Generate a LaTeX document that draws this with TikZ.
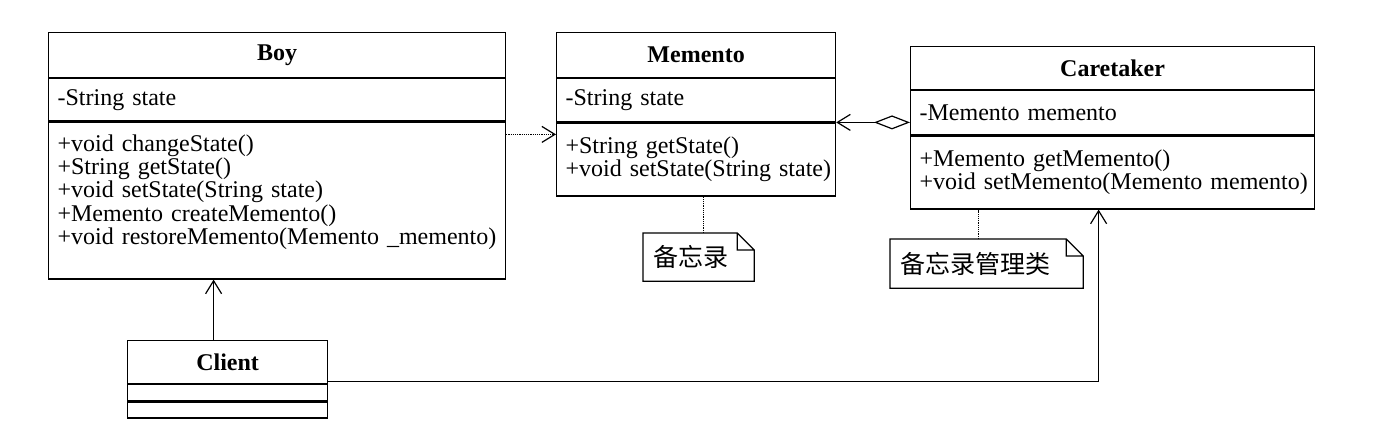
\documentclass[tikz,border=0pt]{standalone}
\usepackage{fontspec}
\setmainfont{Liberation Serif}
\newfontfamily\cjk{Noto Sans CJK SC}
\usetikzlibrary{arrows.meta}

\begin{document}
\begin{tikzpicture}[x=1pt, y=-1pt, line width=1.2pt,
  head/.style={draw, anchor=north west, text width=#1-10pt, align=center, inner xsep=5pt, inner ysep=2pt, font=\fontsize{24}{23.3}\selectfont\bfseries},
  part/.style={draw, anchor=north, text width=#1-10pt, align=left, inner xsep=5pt, inner ysep=2pt, font=\fontsize{24}{23.3}\selectfont, execute at begin node={\leftskip=4pt \rightskip=-8pt plus 1fil}},
  notebox/.style={anchor=north west, text width=#1, align=left, inner xsep=10pt, inner ysep=2pt, font=\fontsize{25}{25}\selectfont\cjk},
  assoc/.style={-{Straight Barb[length=13pt, width=16pt]}},
  dep/.style={assoc, densely dotted},
  aggr/.style={{Diamond[open, length=36pt, width=14pt]}-{Straight Barb[length=13pt, width=16pt]}},
  link/.style={densely dotted}]

\useasboundingbox (0,0) rectangle (1398,442);

% classes
\node[head=457pt, minimum height=45pt] (boy) at (48,32) {Boy};
\node[part=457pt, minimum height=42pt] (boyattr) at (boy.south) {-String state};
\node[part=457pt, minimum height=157pt] (boyops) at (boyattr.south) {+void changeState()\\+String getState()\\+void setState(String state)\\+Memento createMemento()\\+void restoreMemento(Memento \_memento)\vspace{17pt}};

\node[head=279pt, minimum height=45pt] (mem) at (556,32) {Memento};
\node[part=279pt, minimum height=43pt] (memattr) at (mem.south) {-String state};
\node[part=279pt, minimum height=73pt] (memops) at (memattr.south) {+String getState()\\+void setState(String state)};

\node[head=404pt, minimum height=43pt] (care) at (910,46) {Caretaker};
\node[part=404pt, minimum height=44pt] (careattr) at (care.south) {-Memento memento};
\node[part=404pt, minimum height=73pt] (careops) at (careattr.south) {+Memento getMemento()\\+void setMemento(Memento memento)};

\node[head=200pt, minimum height=43pt] (client) at (127,340) {Client};
\node[part=200pt, minimum height=16pt] (clientattr) at (client.south) {};
\node[part=200pt, minimum height=16pt] (clientops) at (clientattr.south) {};

% notes
\node[notebox=90pt, minimum height=47pt] (memnote) at (643,233) {备忘录};
\node[notebox=172pt, minimum height=48pt] (carenote) at (890,239) {备忘录管理类};
\foreach \n in {memnote, carenote}
  \draw (\n.north west) -- ([xshift=-17pt]\n.north east) -- ([yshift=-17pt]\n.north east) -- (\n.south east) -- (\n.south west) -- cycle
        ([xshift=-17pt]\n.north east) |- ([yshift=-17pt]\n.north east);

% relations
\coordinate (deptip) at ([yshift=-12pt]memops.north west);
\draw[dep] (deptip -| boyops.east) -- (deptip);
\draw[aggr] (careattr.west |- memops.north east) -- (memops.north east);

\coordinate (cup) at ([xshift=-14pt]client.north);
\draw[assoc] (cup) -- (cup |- boyops.south);
\coordinate (cbend) at ([xshift=-14pt]careops.south);
\draw[assoc] ([yshift=3pt]client.south east) -| (cbend);

\coordinate (mn) at ([xshift=5pt]memnote.north);
\draw[link] (mn) -- (mn |- memops.south);
\coordinate (cn) at ([xshift=-8pt]carenote.north);
\draw[link] (cn) -- (cn |- careops.south);
\end{tikzpicture}
\end{document}
